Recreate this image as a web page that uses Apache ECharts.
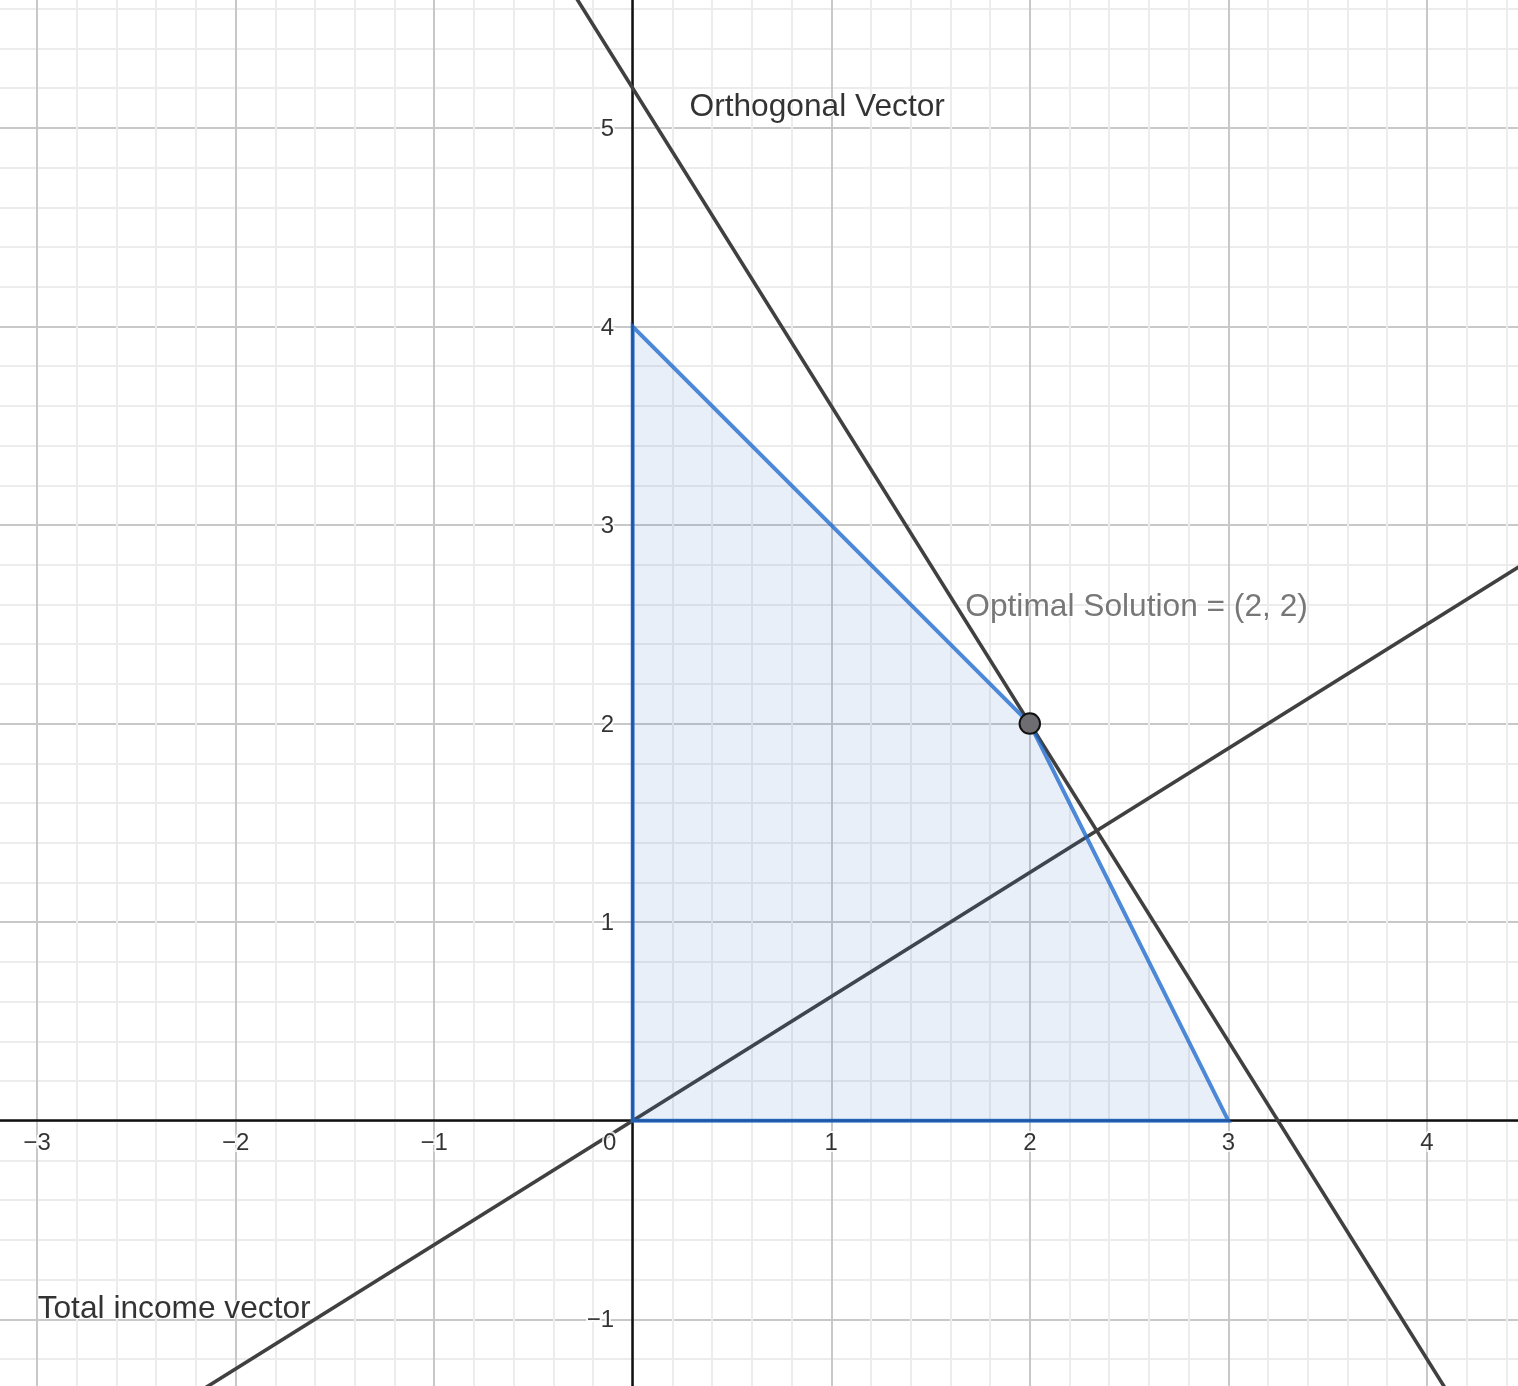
<!DOCTYPE html>
<html>
<head>
<meta charset="utf-8">
<script src="https://cdn.jsdelivr.net/npm/echarts@6/dist/echarts.min.js"></script>
<style>
html,body{margin:0;padding:0;background:#fff;}
#chart{width:1518px;height:1386px;}
</style>
</head>
<body>
<div id="chart"></div>
<script>
// ---- data ----
const xTickLabels = [-3, -2, -1, 0, 1, 2, 3, 4];
const yTickLabels = [-1, 1, 2, 3, 4, 5];
const feasibleRegion = [[0, 0], [0, 4], [2, 2], [3, 0]];
const incomeVectorLine = [[-2.4, -1.5], [4.8, 3.0]];      // y = 0.625 x
const orthogonalLine = [[-0.5, 6.0], [4.25, -1.6]];       // through (2,2), slope -1.6
const optimalPoint = [[2, 2]];
const textLabels = [
  { name: 'Orthogonal Vector', pos: [0.286, 5.105], color: '#000000' },
  { name: 'Optimal Solution = (2, 2)', pos: [1.675, 2.585], color: '#555555' },
  { name: 'Total income vector', pos: [-2.997, -0.948], color: '#000000' }
];

const FONT = '"Liberation Sans", Arial, Helvetica, sans-serif';
const MINUS = '\u2212';
function fmt(v) { return v < 0 ? MINUS + (-v) : String(v); }

const chart = echarts.init(document.getElementById('chart'), null, { renderer: 'canvas' });

const tickLabelStyle = {
  show: true,
  fontSize: 24,
  fontFamily: FONT,
  color: '#000000',
  textBorderColor: '#ffffff',
  textBorderWidth: 4
};

const xTickData = xTickLabels.map(function (v) {
  const item = { value: [v, 0], name: fmt(v) };
  if (v === 0) item.label = { offset: [-23, 0] };
  return item;
});
const yTickData = yTickLabels.map(function (v) {
  return { value: [0, v], name: fmt(v) };
});

const axisCommon = {
  type: 'value',
  interval: 1,
  axisLine: { show: true, onZero: true, lineStyle: { color: '#111111', width: 2.5 } },
  axisTick: { show: false },
  axisLabel: { show: false },
  splitLine: { show: true, lineStyle: { color: '#c8c8c8', width: 2 } },
  minorTick: { show: false, splitNumber: 5 },
  minorSplitLine: { show: true, lineStyle: { color: '#ececec', width: 2 } }
};

const option = {
  animation: false,
  backgroundColor: '#ffffff',
  grid: {
    left: -161.5, right: -107.45, top: -70.6, bottom: -131.8,
    containLabel: false,
    outerBoundsMode: 'none'
  },
  xAxis: Object.assign({}, axisCommon, { min: -4, max: 5 }),
  yAxis: Object.assign({}, axisCommon, { min: -2, max: 6 }),
  series: [
    {
      type: 'line',
      data: incomeVectorLine,
      showSymbol: false,
      symbol: 'none',
      lineStyle: { color: '#404040', width: 3.6 },
      z: 3,
      silent: true
    },
    {
      type: 'line',
      data: orthogonalLine,
      showSymbol: false,
      symbol: 'none',
      lineStyle: { color: '#404040', width: 3.6 },
      z: 3,
      silent: true
    },
    {
      type: 'custom',
      data: feasibleRegion,
      encode: { x: 0, y: 1 },
      z: 4,
      silent: true,
      renderItem: function (params, api) {
        if (params.dataIndex !== 0) return null;
        const pts = feasibleRegion.map(function (p) { return api.coord(p); });
        return {
          type: 'polygon',
          shape: { points: pts },
          style: {
            fill: 'rgba(45,112,190,0.11)',
            stroke: 'rgba(30,105,205,0.78)',
            lineWidth: 4
          }
        };
      }
    },
    {
      type: 'scatter',
      data: optimalPoint,
      symbol: 'circle',
      symbolSize: 20.5,
      itemStyle: { color: '#6e6e72', borderColor: '#111111', borderWidth: 2, opacity: 1 },
      z: 6,
      silent: true
    },
    {
      type: 'scatter',
      data: xTickData,
      symbolSize: 0,
      z: 5,
      silent: true,
      label: Object.assign({}, tickLabelStyle, { position: 'bottom', distance: 11, formatter: '{b}' })
    },
    {
      type: 'scatter',
      data: yTickData,
      symbolSize: 0,
      z: 5,
      silent: true,
      label: Object.assign({}, tickLabelStyle, { position: 'left', distance: 18.5, offset: [0, 1.5], formatter: '{b}' })
    },
    {
      type: 'scatter',
      data: textLabels.map(function (t) {
        return { name: t.name, value: t.pos, label: { color: t.color } };
      }),
      symbolSize: 0,
      z: 7,
      silent: true,
      label: {
        show: true,
        position: 'right',
        distance: 0,
        formatter: '{b}',
        fontSize: 31.7,
        fontFamily: FONT,
        textBorderColor: '#ffffff',
        textBorderWidth: 2
      }
    }
  ]
};

chart.setOption(option);
</script>
</body>
</html>
